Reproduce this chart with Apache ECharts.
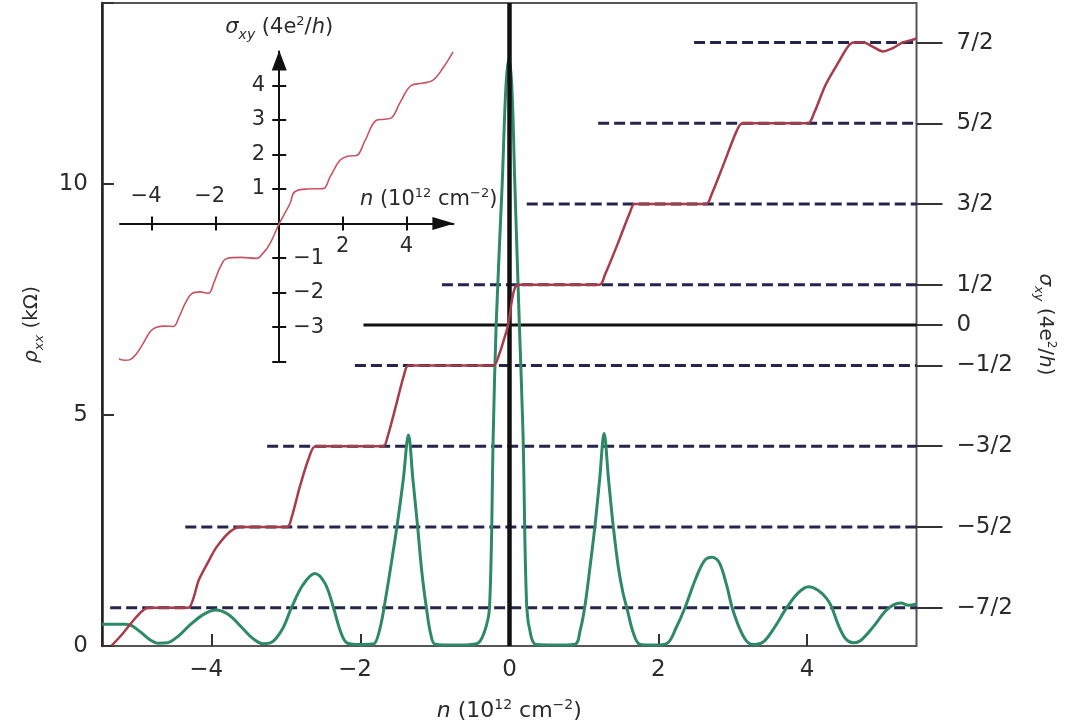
<!DOCTYPE html>
<html>
<head>
<meta charset="utf-8">
<script src="https://cdn.jsdelivr.net/npm/echarts@6/dist/echarts.min.js"></script>
<style>
  html, body { margin: 0; padding: 0; background: #ffffff; }
  #chart { width: 1085px; height: 727px; }
</style>
</head>
<body>
<div id="chart"></div>
<script>
// ρxx (kΩ) against carrier density n (10^12 cm^-2)
const rhoXX = [
  [-5.48,0.47],[-5.17,0.47],[-5.08,0.44],[-4.96,0.3],[-4.84,0.14],[-4.72,0.06],[-4.6,0.07],
  [-4.45,0.22],[-4.3,0.45],[-4.12,0.68],[-3.95,0.78],[-3.78,0.68],[-3.6,0.4],[-3.45,0.16],[-3.32,0.05],[-3.2,0.08],
  [-3.05,0.38],[-2.93,0.84],[-2.78,1.32],[-2.62,1.57],[-2.48,1.35],[-2.37,0.84],[-2.27,0.3],[-2.18,0.06],[-2.0,0.03],[-1.88,0.04],
  [-1.82,0.05],[-1.74,0.4],[-1.66,1.1],[-1.58,1.9],[-1.5,2.75],[-1.43,3.6],[-1.36,4.57],[-1.3,3.6],[-1.24,2.64],[-1.18,1.6],[-1.12,0.84],[-1.06,0.25],[-1.0,0.04],
  [-0.7,0.02],[-0.44,0.05],[-0.34,0.3],[-0.27,0.84],[-0.22,4.6],[-0.18,7.0],[-0.1,10.0],[-0.05,12.1],[-0.01,12.72],
  [0.03,12.1],[0.07,10.0],[0.13,7.0],[0.18,4.6],[0.23,0.84],[0.29,0.2],[0.36,0.03],
  [0.6,0.02],[0.88,0.04],[0.95,0.35],[1.01,0.84],[1.08,1.7],[1.15,2.64],[1.21,3.6],[1.27,4.6],[1.33,3.6],[1.39,2.64],[1.46,1.72],[1.52,1.18],[1.58,0.8],[1.66,0.3],[1.75,0.04],
  [1.95,0.02],[2.12,0.06],[2.24,0.4],[2.36,0.84],[2.5,1.45],[2.62,1.85],[2.72,1.92],[2.82,1.8],[2.92,1.3],[2.99,0.84],[3.1,0.35],[3.2,0.08],[3.3,0.03],
  [3.42,0.1],[3.56,0.4],[3.73,0.84],[3.88,1.15],[4.02,1.28],[4.15,1.2],[4.26,1.03],[4.33,0.84],[4.42,0.45],[4.52,0.15],[4.62,0.07],[4.72,0.12],
  [4.89,0.42],[5.05,0.75],[5.16,0.89],[5.26,0.93],[5.36,0.88],[5.47,0.91]
];

// σxy (4e²/h) against n, main panel
const sigmaXY = [
  [-5.35,-3.97],[-5.2,-3.82],[-5.05,-3.65],[-4.95,-3.55],[-4.86,-3.5],[-4.6,-3.5],[-4.32,-3.5],
  [-4.25,-3.38],[-4.18,-3.16],[-4.05,-2.93],[-3.94,-2.75],[-3.76,-2.56],[-3.62,-2.5],[-3.3,-2.5],[-2.99,-2.5],
  [-2.93,-2.38],[-2.82,-2.0],[-2.7,-1.65],[-2.61,-1.5],[-2.2,-1.5],[-1.7,-1.5],
  [-1.64,-1.38],[-1.52,-0.97],[-1.42,-0.62],[-1.36,-0.5],[-0.8,-0.5],[-0.22,-0.5],
  [-0.14,-0.36],[-0.07,-0.16],[-0.02,0.0],[0.03,0.3],[0.07,0.46],[0.12,0.5],[0.6,0.5],[1.21,0.5],
  [1.28,0.62],[1.45,1.0],[1.62,1.4],[1.68,1.5],[2.2,1.5],[2.64,1.5],
  [2.72,1.63],[2.88,2.0],[3.05,2.4],[3.13,2.5],[3.6,2.5],[4.01,2.5],
  [4.09,2.62],[4.25,2.98],[4.43,3.27],[4.55,3.45],[4.62,3.5],[4.76,3.5],[4.88,3.45],[5.02,3.39],[5.15,3.43],[5.28,3.5],[5.4,3.53],[5.47,3.55]
];

// σxy (4e²/h) against n, inset
const insetSigma = [
  [-5.06,-3.91],[-4.85,-3.96],[-4.69,-3.94],[-4.5,-3.78],[-4.3,-3.5],[-4.05,-3.12],[-3.86,-3.0],[-3.6,-2.97],[-3.33,-2.98],
  [-3.15,-2.7],[-2.95,-2.3],[-2.75,-2.03],[-2.5,-1.98],[-2.23,-2.02],[-2.05,-1.7],[-1.85,-1.25],[-1.65,-1.01],[-1.2,-0.98],[-0.71,-1.01],
  [-0.5,-0.85],[-0.29,-0.58],[0,0],[0.34,0.58],[0.49,0.92],[0.9,1.0],[1.38,1.01],[1.6,1.35],[1.91,1.83],[2.15,1.95],[2.43,1.97],
  [2.7,2.4],[3.06,2.99],[3.3,3.02],[3.53,3.06],[3.8,3.5],[4.16,4.0],[4.5,4.06],[4.84,4.15],[5.15,4.5],[5.47,4.97]
];

// half-integer plateau guides: level and the density where each guide begins
const plateauLevels = [-3.5, -2.5, -1.5, -0.5, 0.5, 1.5, 2.5, 3.5];
const plateauStarts = [-5.37, -4.36, -3.26, -2.08, -0.91, 0.23, 1.19, 2.48];
const zeroLineStart = -1.965;

// tick values and labels
const mainXTicks = [-4, -2, 0, 2, 4];
const sigmaTicks = [-3.5, -2.5, -1.5, -0.5, 0, 0.5, 1.5, 2.5, 3.5];
const sigmaTickLabels = ['−7/2', '−5/2', '−3/2', '−1/2', '0', '1/2', '3/2', '5/2', '7/2'];
const insetXTicks = [-4, -2, 2, 4];
const insetYTicks = [-4, -3, -2, -1, 1, 2, 3, 4];

// axis extents
const X_MIN = -5.48, X_MAX = 5.47;
const RHO_MAX = 13.92;
const SIG_MIN = -3.975, SIG_MAX = 3.99;
const IN_X_MIN = -5.01, IN_X_MAX = 5.48;
const IN_Y_MIN = -4, IN_Y_MAX = 4.98;

// inset panel box; its axes are shifted so they cross at the origin
const INSET = { left: 120, top: 51.5, width: 333.4, height: 310.2 };
const insetXAxisOffset = -(0 - IN_Y_MIN) / (IN_Y_MAX - IN_Y_MIN) * INSET.height;
const insetYAxisOffset = -(0 - IN_X_MIN) / (IN_X_MAX - IN_X_MIN) * INSET.width;

const FONT = 'DejaVu Sans';
const TXT = '#2b2b2b';
const GUIDE = '#24244c';
const GREEN = '#2e8a66';
const RED = '#a83c4a';
const INSET_RED = '#c95461';

const fmtNum = v => (v < 0 ? '−' + Math.abs(v) : String(v));
// negative tick labels sit with the digit over the tick and the minus sign hanging left
const fmtTick = v => (v < 0 ? '{m|−' + Math.abs(v) + '}' : '{d|' + v + '}');
const tickRich = size => ({
  m: { fontFamily: FONT, fontSize: size, color: TXT, padding: [0, 12, 0, 0] },
  d: { fontFamily: FONT, fontSize: size, color: TXT }
});

function richFor(size) {
  const sub = Math.round(size * 0.66);
  const sup = Math.round(size * 0.62);
  return {
    g: { fontFamily: FONT, fontSize: size, fontStyle: 'italic', color: TXT, lineHeight: size + 8 },
    t: { fontFamily: FONT, fontSize: size, color: TXT, lineHeight: size + 8 },
    s: { fontFamily: FONT, fontSize: sub, fontStyle: 'italic', color: TXT, lineHeight: sub, verticalAlign: 'bottom' },
    p: { fontFamily: FONT, fontSize: sup, color: TXT, lineHeight: sup + 2, verticalAlign: 'top', padding: [2, 0, 0, 0] }
  };
}

const rhoName = '{g|ρ}{s|xx}{t| (kΩ)}';
const sigmaName = '{g|σ}{s|xy}{t| (4e}{p|2}{t|/}{g|h}{t|)}';
const densityName = '{g|n}{t| (10}{p|12}{t| cm}{p|−2}{t|)}';

const chart = echarts.init(document.getElementById('chart'), null, { renderer: 'canvas' });

const series = [];

// dashed guides at the half-integer plateaus
plateauLevels.forEach((lv, i) => {
  series.push({
    type: 'line', xAxisIndex: 0, yAxisIndex: 1, z: 1, silent: true,
    symbol: 'none',
    data: [[plateauStarts[i], lv], [X_MAX, lv]],
    lineStyle: { color: GUIDE, width: 3, type: [11, 5] }
  });
});

// solid guide at σxy = 0
series.push({
  type: 'line', xAxisIndex: 0, yAxisIndex: 1, z: 1, silent: true,
  symbol: 'none',
  data: [[zeroLineStart, 0], [X_MAX, 0]],
  lineStyle: { color: '#111111', width: 3 }
});

// ρxx trace
series.push({
  name: 'rho_xx', type: 'line', xAxisIndex: 0, yAxisIndex: 0, z: 2,
  symbol: 'none', smooth: 0.35, data: rhoXX,
  lineStyle: { color: GREEN, width: 3 }
});

// vertical line at n = 0
series.push({
  type: 'line', xAxisIndex: 0, yAxisIndex: 0, z: 3, data: [],
  markLine: {
    silent: true, symbol: ['none', 'none'], z: 3,
    label: { show: false },
    lineStyle: { color: '#111111', width: 4.5, type: 'solid' },
    data: [{ xAxis: 0 }]
  }
});

// σxy staircase
series.push({
  name: 'sigma_xy', type: 'line', xAxisIndex: 0, yAxisIndex: 1, z: 4,
  symbol: 'none', smooth: 0.3, data: sigmaXY,
  lineStyle: { color: RED, width: 2.5 }
});

// inset σxy trace
series.push({
  name: 'inset', type: 'line', xAxisIndex: 1, yAxisIndex: 2, z: 5,
  symbol: 'none', smooth: 0.4, clip: false, data: insetSigma,
  lineStyle: { color: INSET_RED, width: 1.6 }
});

const insetLabel = { fontFamily: FONT, fontSize: 21, color: TXT, formatter: fmtTick, rich: tickRich(21) };

chart.setOption({
  animation: false,
  backgroundColor: '#ffffff',
  grid: [
    { left: 102, top: 3, width: 814.5, height: 643, show: true,
      borderColor: '#555555', borderWidth: 2, backgroundColor: 'transparent', containLabel: false },
    { left: INSET.left, top: INSET.top, width: INSET.width, height: INSET.height, show: false, containLabel: false }
  ],
  xAxis: [
    {
      gridIndex: 0, type: 'value', min: X_MIN, max: X_MAX,
      axisLine: { show: false, onZero: false },
      splitLine: { show: false },
      axisTick: { inside: true, length: 12, customValues: mainXTicks, lineStyle: { color: '#333', width: 2 } },
      axisLabel: { customValues: mainXTicks, formatter: fmtTick, rich: tickRich(23), margin: 13,
        fontFamily: FONT, fontSize: 23, color: TXT },
      name: densityName, nameLocation: 'middle', nameGap: 50,
      nameTextStyle: { fontFamily: FONT, fontSize: 22, color: TXT, rich: richFor(22) }
    },
    {
      // inset n axis: line with arrow, downward ticks, labels for positive values below
      gridIndex: 1, type: 'value', min: IN_X_MIN, max: IN_X_MAX, position: 'bottom', offset: insetXAxisOffset,
      axisLine: { show: true, onZero: false, symbol: ['none', 'triangle'], symbolSize: [13, 22],
        symbolOffset: [0, -10], lineStyle: { color: '#111', width: 2 } },
      splitLine: { show: false },
      axisTick: { inside: false, length: 7, customValues: insetXTicks, lineStyle: { color: '#111', width: 2 } },
      axisLabel: Object.assign({ customValues: [2, 4], margin: 13 }, insetLabel),
      name: densityName, nameLocation: 'end', nameGap: 44,
      nameTextStyle: { fontFamily: FONT, fontSize: 21, color: TXT, align: 'right', verticalAlign: 'bottom',
        padding: [0, 0, 9, 0], rich: richFor(21) }
    },
    {
      // inset n axis: upward ticks, labels for negative values above
      gridIndex: 1, type: 'value', min: IN_X_MIN, max: IN_X_MAX, position: 'bottom', offset: insetXAxisOffset,
      axisLine: { show: false, onZero: false },
      splitLine: { show: false },
      axisTick: { inside: true, length: 7, customValues: insetXTicks, lineStyle: { color: '#111', width: 2 } },
      axisLabel: Object.assign({ customValues: [-4, -2], inside: true, margin: 16 }, insetLabel)
    }
  ],
  yAxis: [
    {
      gridIndex: 0, type: 'value', min: 0, max: RHO_MAX, interval: 5, position: 'left',
      axisLine: { show: true, onZero: false, lineStyle: { color: '#222', width: 2.5 } },
      splitLine: { show: false },
      axisTick: { inside: true, length: 12, lineStyle: { color: '#333', width: 2 } },
      axisLabel: { margin: 14, fontFamily: FONT, fontSize: 23, color: TXT,
        formatter: v => (v % 5 === 0 ? String(v) : '') },
      name: rhoName, nameLocation: 'middle', nameRotate: 90, nameGap: 56,
      nameTextStyle: { fontFamily: FONT, fontSize: 20, color: TXT, rich: richFor(20) }
    },
    {
      gridIndex: 0, type: 'value', min: SIG_MIN, max: SIG_MAX, position: 'right',
      axisLine: { show: false, onZero: false },
      splitLine: { show: false },
      axisTick: { inside: false, length: 26, customValues: sigmaTicks, lineStyle: { color: '#333', width: 2 } },
      axisLabel: { customValues: sigmaTicks, margin: 40, fontFamily: FONT, fontSize: 23, color: TXT,
        formatter: v => {
          const i = sigmaTicks.findIndex(t => Math.abs(t - v) < 1e-6);
          return i >= 0 ? sigmaTickLabels[i] : '';
        } },
      name: sigmaName, nameLocation: 'middle', nameRotate: -90, nameGap: 115,
      nameTextStyle: { fontFamily: FONT, fontSize: 20, color: TXT, rich: richFor(20) }
    },
    {
      // inset σxy axis: line with arrow, left ticks, labels for positive values
      gridIndex: 1, type: 'value', min: IN_Y_MIN, max: IN_Y_MAX, position: 'left', offset: insetYAxisOffset,
      axisLine: { show: true, onZero: false, symbol: ['none', 'triangle'], symbolSize: [15, 20],
        symbolOffset: [0, -9], lineStyle: { color: '#111', width: 2 } },
      splitLine: { show: false },
      axisTick: { inside: false, length: 7, customValues: insetYTicks, lineStyle: { color: '#111', width: 2 } },
      axisLabel: Object.assign({ customValues: [1, 2, 3, 4], margin: 14 }, insetLabel),
      name: sigmaName, nameLocation: 'end', nameGap: 9,
      nameTextStyle: { fontFamily: FONT, fontSize: 21, color: TXT, rich: richFor(21) }
    },
    {
      // inset σxy axis: right ticks, labels for negative values
      gridIndex: 1, type: 'value', min: IN_Y_MIN, max: IN_Y_MAX, position: 'left', offset: insetYAxisOffset,
      axisLine: { show: false, onZero: false },
      splitLine: { show: false },
      axisTick: { inside: true, length: 7, customValues: insetYTicks, lineStyle: { color: '#111', width: 2 } },
      axisLabel: Object.assign({ customValues: [-1, -2, -3], inside: true, margin: 14 }, insetLabel,
        { formatter: fmtNum })
    }
  ],
  series: series
});
</script>
</body>
</html>
